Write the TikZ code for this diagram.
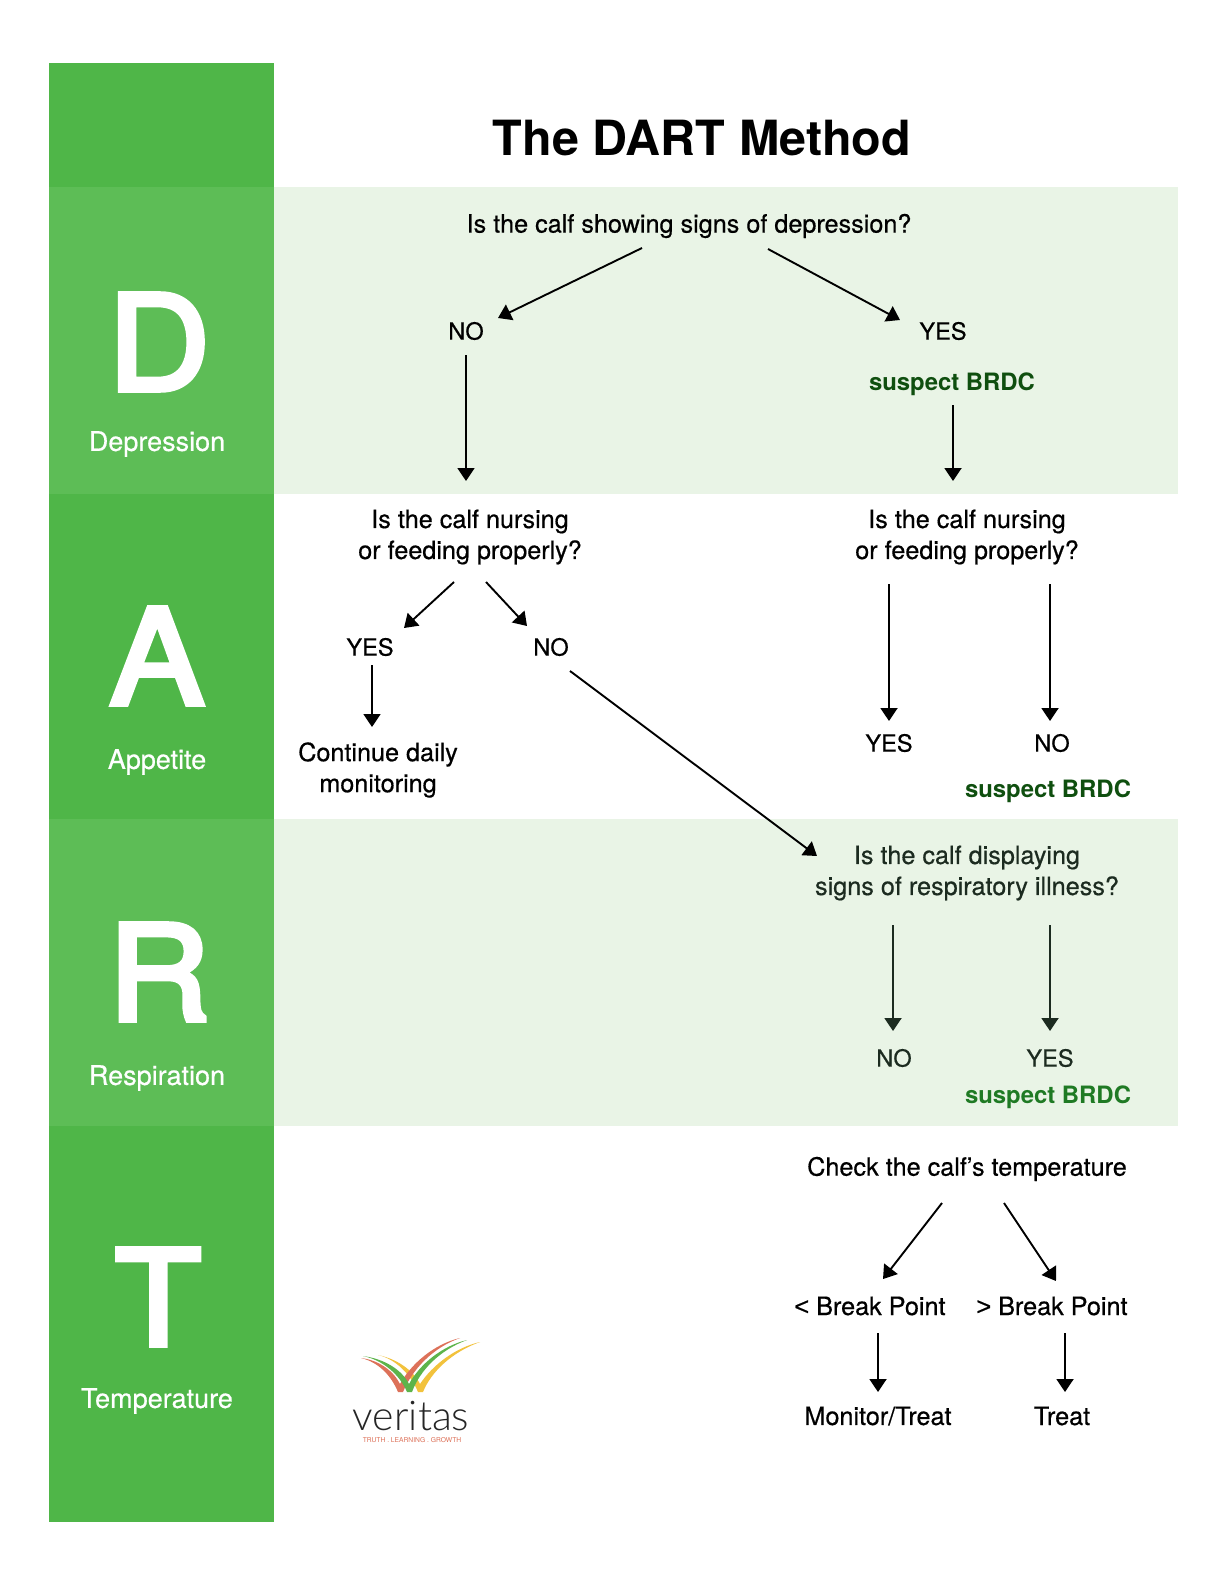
\documentclass[tikz,border=0pt]{standalone}
\usepackage{fontspec}
\setmainfont{TeX Gyre Heros}
\newfontfamily\medf{TeX Gyre Heros}[FakeBold=0.5]
\newfontfamily\bigf{TeX Gyre Heros}[FakeBold=4,FakeStretch=1.07]
\newfontfamily\lessf{Liberation Sans}[FakeBold=0.5]
\newfontfamily\logofont{Lato}[UprightFont=* Light]
\usetikzlibrary{arrows.meta}
\definecolor{bandDark}{HTML}{4FB648}
\definecolor{bandMid}{HTML}{5DBD56}
\definecolor{bandPale}{HTML}{E9F4E6}
\definecolor{brdcA}{HTML}{0F4F0F}
\definecolor{brdcB}{HTML}{1F7A24}
\definecolor{inkR}{HTML}{1C2B20}
\definecolor{logoRed}{HTML}{DD7159}
\definecolor{logoGreen}{HTML}{5DB44B}
\definecolor{logoYellow}{HTML}{F2C23C}
\tikzset{
 lbl/.style={font=\medf\fontsize{25.2}{31}\selectfont,align=center,inner sep=0pt,text=black},
 yn/.style={lbl,font=\medf\fontsize{23.6}{31}\selectfont},
 brdc/.style={font=\fontsize{23.9}{31}\selectfont\bfseries,inner sep=0pt,text=brdcA},
 letter/.style={font=\bigf\fontsize{132}{132}\selectfont,text=white,inner sep=0pt},
 sidecap/.style={font=\medf\fontsize{27}{31}\selectfont,text=white,inner sep=0pt},
 arr/.style={line width=1.9pt,-{Triangle[length=13pt,width=17pt]},draw=black},
 arrR/.style={arr,draw=inkR},
}
\begin{document}
\begin{tikzpicture}[x=1pt,y=-1pt]
\useasboundingbox (0,0) rectangle (1224,1584);
\fill[white] (0,0) rectangle (1224,1584);
\fill[bandDark] (49,63) rectangle (274,1522);
\fill[bandMid] (49,187) rectangle (274,494);
\fill[bandMid] (49,819) rectangle (274,1126);
\fill[bandPale] (274,187) rectangle (1178,494);
\fill[bandPale] (274,819) rectangle (1178,1126);
% left column
\node[letter] (ld) at (159,342) {D};
\node[sidecap] (cd) at (157,444) {Depression};
\node[letter] (la) at (157,656) {A};
\node[sidecap] (ca) at (157,762) {Appetite};
\node[letter] (lr) at (159,972) {R};
\node[sidecap] (cr) at (157,1078) {Respiration};
\node[letter] (lt) at (158,1297) {T};
\node[sidecap] (ct) at (157,1401) {Temperature};
% title
\node[font=\fontsize{48.5}{50}\selectfont\bfseries,inner sep=0pt] (title) at (702,138) {The DART Method};
% labels
\node[lbl] (q1) at (689,226) {Is the calf showing signs of depression?};
\node[yn] (no1) at (466,331) {NO};
\node[yn] (yes1) at (943,331) {YES};
\node[brdc] (b1) at (952,384) {suspect BRDC};
\node[lbl] (q2l) at (470,537) {Is the calf nursing\\or feeding properly?};
\node[lbl] (q2r) at (967,537) {Is the calf nursing\\or feeding properly?};
\node[yn] (yes2) at (370,647) {YES};
\node[yn] (no2) at (551,647) {NO};
\node[lbl] (cont) at (378,770) {Continue daily\\monitoring};
\node[yn] (yes3) at (889,743) {YES};
\node[yn] (no3) at (1052,743) {NO};
\node[brdc] (b2) at (1048,791) {suspect BRDC};
\node[lbl,text=inkR] (q3) at (967,873) {Is the calf displaying\\signs of respiratory illness?};
\node[yn,text=inkR] (no4) at (894,1058) {NO};
\node[yn,text=inkR] (yes4) at (1050,1058) {YES};
\node[brdc,text=brdcB] (b3) at (1048,1097) {suspect BRDC};
\node[lbl] (q4) at (967,1169) {Check the calf’s temperature};
\node[lbl] (lo) at (870,1306) {{\lessf<} Break Point};
\node[lbl] (hi) at (1052,1306) {{\lessf>} Break Point};
\node[lbl] (mon) at (878,1416) {Monitor/Treat};
\node[lbl] (tr) at (1062,1416) {Treat};
% connectors
\draw[arr] ([shift={(-47,22)}]q1.center) -- ([shift={(32,-13)}]no1.center);
\draw[arr] ([shift={(79,23)}]q1.center) -- ([shift={(-43,-11)}]yes1.center);
\draw[arr] ([shift={(0,24)}]no1.center) -- ([shift={(0,150)}]no1.center);
\draw[arr] ([shift={(1,21)}]b1.center) -- ([shift={(1,97)}]b1.center);
\draw[arr] ([shift={(-16,45)}]q2l.center) -- ([shift={(34,-19)}]yes2.center);
\draw[arr] ([shift={(16,45)}]q2l.center) -- ([shift={(-24,-21)}]no2.center);
\draw[arr] ([shift={(2,18)}]yes2.center) -- ([shift={(2,80)}]yes2.center);
\draw[arr] ([shift={(19,24)}]no2.center) -- ([shift={(266,209)}]no2.center);
\draw[arr] ([shift={(-78,47)}]q2r.center) -- ([shift={(0,-22)}]yes3.center);
\draw[arr] ([shift={(83,47)}]q2r.center) -- ([shift={(-2,-22)}]no3.center);
\draw[arrR] ([shift={(-74,52)}]q3.center) -- ([shift={(-1,-27)}]no4.center);
\draw[arrR] ([shift={(83,52)}]q3.center) -- ([shift={(0,-27)}]yes4.center);
\draw[arr] ([shift={(-25,34)}]q4.center) -- ([shift={(13,-27)}]lo.center);
\draw[arr] ([shift={(37,34)}]q4.center) -- ([shift={(4,-25)}]hi.center);
\draw[arr] ([shift={(8,27)}]lo.center) -- ([shift={(8,86)}]lo.center);
\draw[arr] ([shift={(13,27)}]hi.center) -- ([shift={(13,86)}]hi.center);
% logo
\fill[logoYellow] (378,1355) .. controls (396,1359) and (411,1375) .. (418,1392) -- (423,1392) .. controls (431,1372) and (452,1352) .. (480,1342) .. controls (454,1348) and (432,1366) .. (420,1384) .. controls (413,1370) and (397,1359) .. cycle;
\fill[logoRed] (361,1358) .. controls (378,1362) and (391,1375) .. (398,1392) -- (403,1392) .. controls (412,1370) and (432,1348) .. (460,1338) .. controls (434,1344) and (411,1364) .. (400,1384) .. controls (393,1370) and (378,1360) .. cycle;
\fill[logoGreen] (363,1356) .. controls (383,1360) and (400,1375) .. (407,1392) -- (412,1392) .. controls (420,1370) and (440,1350) .. (467,1340) .. controls (442,1346) and (420,1364) .. (409,1384) .. controls (402,1370) and (385,1359) .. cycle;
\node[font=\logofont\fontsize{41}{41}\selectfont,text=black!85,inner sep=0pt] (logo) at (411,1416) {veritas};
\node[font=\fontsize{6.7}{7}\selectfont,text=logoRed,inner sep=0pt] (tag) at (412,1440) {TRUTH . LEARNING . GROWTH};
\end{tikzpicture}
\end{document}
